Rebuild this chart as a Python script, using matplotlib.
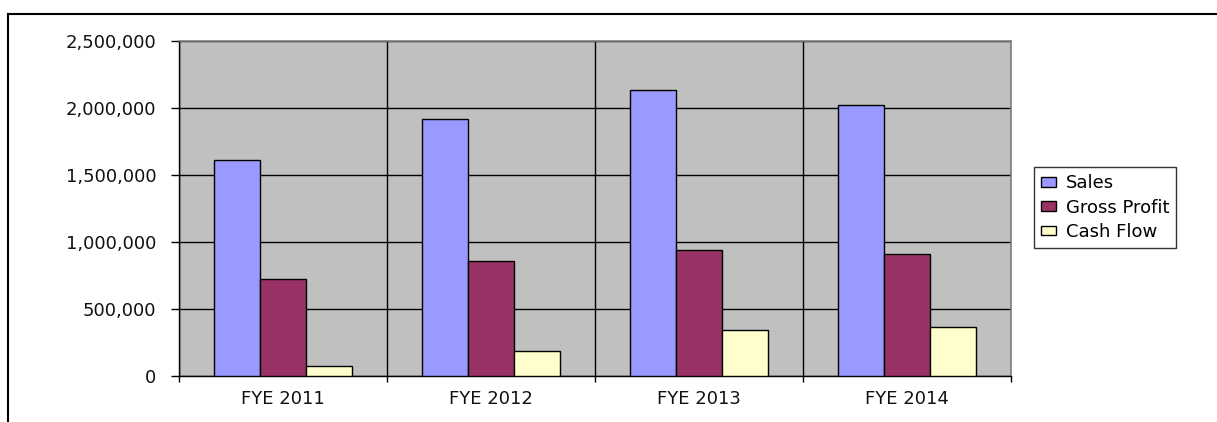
import numpy as np
import matplotlib
matplotlib.use('Agg')
import matplotlib.pyplot as plt
from matplotlib.lines import Line2D
from matplotlib.ticker import FuncFormatter

plt.rcParams['font.family'] = ['DejaVu Sans']

years = ['FYE 2011', 'FYE 2012', 'FYE 2013', 'FYE 2014']
sales = [1612000, 1916000, 2137000, 2021000]
gross_profit = [721000, 856000, 943000, 913000]
cash_flow = [72000, 189000, 343000, 368000]

series = [('Sales', sales, '#9999FF'),
          ('Gross Profit', gross_profit, '#993366'),
          ('Cash Flow', cash_flow, '#FFFFCC')]

W, H = 1217, 422
fs = 13
fig = plt.figure(figsize=(W / 100, H / 100), dpi=100)
ax = fig.add_axes([179 / W, 1 - 376 / H, (1011 - 179) / W, (376 - 41) / H])
ax.set_facecolor('#C0C0C0')

x = np.arange(len(years))
w = 1 / 4.5
for i, (name, vals, col) in enumerate(series):
    ax.bar(x + (i - 1) * w, vals, w, color=col, edgecolor='black',
           linewidth=1, label=name, zorder=3)

ax.set_xlim(-0.5, len(years) - 0.5)
ax.set_ylim(0, 2500000)
ax.set_yticks(np.arange(0, 2500001, 500000))
ax.yaxis.set_major_formatter(FuncFormatter(lambda v, p: f'{int(v):,}'))
ax.set_xticks(x)
ax.set_xticklabels(years)
ax.set_xticks(np.arange(-0.5, len(years), 1), minor=True)

ax.grid(axis='y', which='major', color='black', linewidth=1, zorder=1)
ax.grid(axis='x', which='minor', color='black', linewidth=1, zorder=1)
ax.set_axisbelow(True)

ax.tick_params(axis='x', which='major', length=0, pad=10, labelsize=fs,
               labelcolor='#111111')
ax.tick_params(axis='x', which='minor', length=4.3, width=1, direction='out')
ax.tick_params(axis='y', length=5.8, width=1, direction='out', pad=10.5,
               labelsize=fs, labelcolor='#111111')

for s in ['left', 'bottom']:
    ax.spines[s].set_color('black')
    ax.spines[s].set_linewidth(1)
for s in ['top', 'right']:
    ax.spines[s].set_color('#808080')
    ax.spines[s].set_linewidth(1.2)

leg = fig.legend(loc='upper left', bbox_to_anchor=(1034 / W, 1 - 167 / H),
                 frameon=True, fancybox=False, edgecolor='black',
                 fontsize=fs, handlelength=0.8, handleheight=0.45,
                 handletextpad=0.55, borderpad=0.4, labelspacing=0.35,
                 borderaxespad=0)
leg.get_frame().set_linewidth(1)

# outer chart border (cut at right and bottom)
fig.add_artist(Line2D([8 / W, 8 / W], [0, 1 - 14 / H], color='black',
                      linewidth=1.5, transform=fig.transFigure))
fig.add_artist(Line2D([8 / W, 1], [1 - 14 / H, 1 - 14 / H], color='black',
                      linewidth=1.5, transform=fig.transFigure))

fig.savefig('out.png', dpi=100)
